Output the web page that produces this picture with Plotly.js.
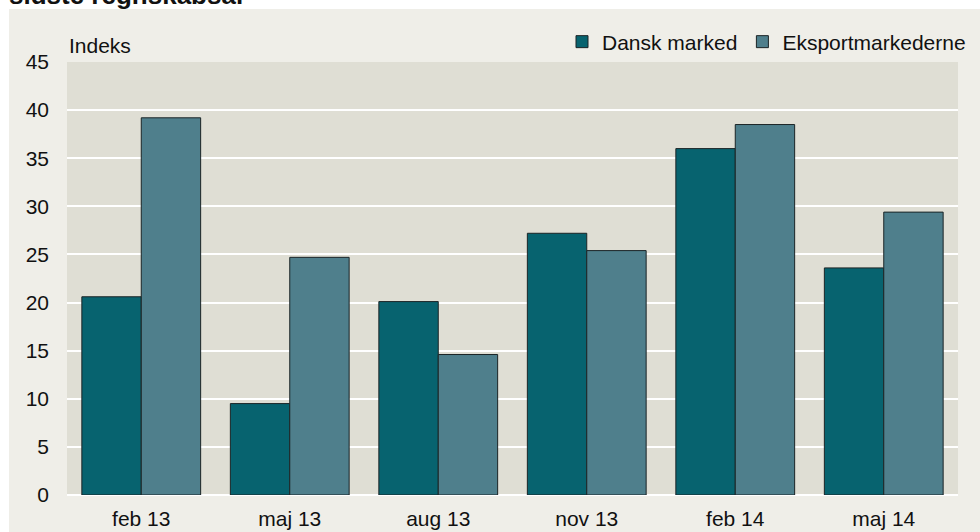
<!DOCTYPE html>
<html>
<head>
<meta charset="utf-8">
<script src="https://cdn.plot.ly/plotly-3.0.1.min.js"></script>
<style>
html,body{margin:0;padding:0;background:#ffffff;}
#chart{width:980px;height:532px;}
</style>
</head>
<body>
<div id="chart"></div>
<script>
var categories = ["feb 13", "maj 13", "aug 13", "nov 13", "feb 14", "maj 14"];
var danskMarked = [20.6, 9.5, 20.1, 27.2, 36.0, 23.6];
var eksportMarkederne = [39.2, 24.7, 14.6, 25.4, 38.5, 29.4];
var seriesNames = ["Dansk marked", "Eksportmarkederne"];
var yTicks = [0, 5, 10, 15, 20, 25, 30, 35, 40, 45];

var W = 980, H = 532;
var mL = 67, mR = 22, mT = 62, mB = 37;
var pw = W - mL - mR, ph = H - mT - mB;
function px2x(p){ return (p - mL) / pw; }
function py2y(p){ return (H - mB - p) / ph; }

var font = "Liberation Sans, Arial, sans-serif";
var fs = 21;

var traces = [
  {type: "bar", name: seriesNames[0], x: categories, y: danskMarked,
   marker: {color: "#07636F", line: {color: "#1b2426", width: 1}}, hoverinfo: "y"},
  {type: "bar", name: seriesNames[1], x: categories, y: eksportMarkederne,
   marker: {color: "#4F7F8C", line: {color: "#1b2426", width: 1}}, hoverinfo: "y"}
];

var layout = {
  width: W, height: H,
  margin: {l: mL, r: mR, t: mT, b: mB, pad: 0, autoexpand: false},
  paper_bgcolor: "#EFEEE8",
  plot_bgcolor: "#DFDED4",
  font: {family: font, size: fs, color: "#111111"},
  barmode: "group",
  bargap: 0.2,
  bargroupgap: 0,
  showlegend: true,
  legend: {orientation: "h", x: px2x(562), xanchor: "left", y: py2y(42), yanchor: "middle",
           bgcolor: "rgba(0,0,0,0)", font: {family: font, size: fs, color: "#111111"},
           itemwidth: 30, traceorder: "normal"},
  xaxis: {type: "category", showgrid: false, zeroline: false, showline: false, ticks: "",
          ticklabelstandoff: 9,
          tickfont: {family: font, size: fs, color: "#111111"}, fixedrange: true},
  yaxis: {range: [0, 45], tickvals: yTicks, ticktext: yTicks.map(String), showgrid: true,
          gridcolor: "#ffffff", gridwidth: 2, zeroline: true, zerolinecolor: "#ffffff", zerolinewidth: 2,
          showline: false, ticks: "", ticklabelstandoff: 17,
          tickfont: {family: font, size: fs, color: "#111111"}, fixedrange: true},
  shapes: [
    {type: "rect", xref: "paper", yref: "paper", x0: px2x(0), x1: px2x(W), y0: py2y(9), y1: py2y(0),
     fillcolor: "#ffffff", line: {width: 0}, layer: "below"},
    {type: "rect", xref: "paper", yref: "paper", x0: px2x(0), x1: px2x(9), y0: py2y(H), y1: py2y(0),
     fillcolor: "#ffffff", line: {width: 0}, layer: "below"}
  ],
  annotations: [
    {text: "sidste regnskabsår", xref: "paper", yref: "paper", x: px2x(7), y: py2y(12),
     xanchor: "left", yanchor: "bottom", showarrow: false,
     font: {family: font, size: 26, color: "#111111", weight: "bold"}},
    {text: "Indeks", xref: "paper", yref: "paper", x: px2x(67), y: py2y(45),
     xanchor: "left", yanchor: "middle", showarrow: false,
     font: {family: font, size: fs, color: "#111111"}}
  ]
};

Plotly.newPlot("chart", traces, layout, {displayModeBar: false, staticPlot: true});
</script>
</body>
</html>
